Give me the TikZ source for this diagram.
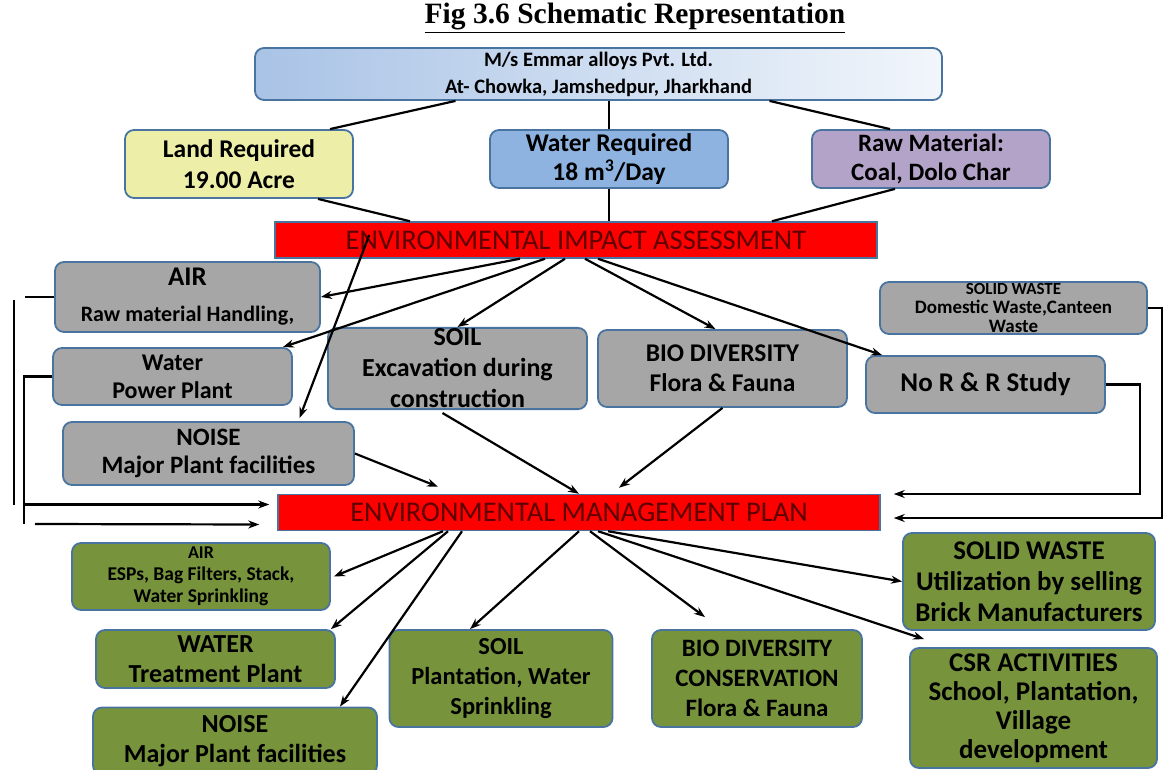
\documentclass[tikz,border=0pt]{standalone}
\usepackage{fontspec}
\setmainfont{Carlito}
\newfontfamily\titlefont{Liberation Serif}
\usetikzlibrary{arrows.meta,positioning}
\definecolor{boxline}{HTML}{4A74A0}
\definecolor{impgrey}{HTML}{A6A6A6}
\definecolor{plangreen}{HTML}{77933C}
\definecolor{landfill}{HTML}{EDEFA9}
\definecolor{waterfill}{HTML}{8EB3E0}
\definecolor{rawfill}{HTML}{B4A3C8}
\definecolor{cofillL}{HTML}{A9C3E6}
\definecolor{cofillR}{HTML}{F2F6FB}
\definecolor{bartext}{HTML}{5C0000}
\newcommand\fs[2]{\fontsize{#1}{#2}\selectfont}

\begin{document}
\begin{tikzpicture}[x=1pt,y=-1pt,>={Stealth[length=11pt,width=8pt]},line width=2.2pt,
 box/.style={draw=boxline,line width=1.8pt,rounded corners=9pt,align=center,inner sep=1pt,font=\bfseries},
 imp/.style={box,fill=impgrey},
 plan/.style={box,fill=plangreen},
 bar/.style={draw=boxline,line width=1.5pt,fill=red,text=bartext,minimum width=602pt,minimum height=36pt,font=\fs{28.5}{30}}]
\useasboundingbox (0,0) rectangle (1165,770);

\node[font=\titlefont\bfseries\fs{29.5}{32}] (t) at (635,18) {\underline{Fig 3.6 Schematic Representation}};
\node[box,left color=cofillL,right color=cofillR,minimum width=687pt,minimum height=52pt,font=\bfseries\fs{20.5}{27}] (co) at (598.5,74)
 {M/s Emmar alloys Pvt. Ltd.\\At- Chowka, Jamshedpur, Jharkhand};
\node[box,fill=landfill,minimum width=228pt,minimum height=68pt,font=\bfseries\fs{25.5}{31}] (land) at (239,164) {Land Required\\19.00 Acre};
\node[box,fill=waterfill,minimum width=238pt,minimum height=58pt,font=\bfseries\fs{25.5}{29}] (water) at (609,159) {Water Required\\18 m\textsuperscript{3}/Day};
\node[box,fill=rawfill,minimum width=238pt,minimum height=58pt,font=\bfseries\fs{25}{29}] (raw) at (931,159) {Raw Material:\\Coal, Dolo Char};
\node[bar] (eia) at (576,240) {ENVIRONMENTAL IMPACT ASSESSMENT};

\node[imp,minimum width=265pt,minimum height=70pt,font=\bfseries\fs{22}{36}] (airI) at (187.5,297) {{\fs{27}{36}AIR}\\Raw material Handling,};
\node[imp,minimum width=239pt,minimum height=57pt,font=\bfseries\fs{24}{28}] (waterI) at (172.5,376.5) {Water\\Power Plant};
\node[imp,minimum width=291pt,minimum height=63pt,font=\bfseries\fs{25}{28}] (noiseI) at (208.5,453.5) {NOISE\\Major Plant facilities};
\node[imp,minimum width=259pt,minimum height=77pt,font=\bfseries\fs{26}{31}] (soilI) at (457.5,368.5) {SOIL\\Excavation during\\construction};
\node[imp,minimum width=249pt,minimum height=77pt,font=\bfseries\fs{25.5}{30}] (bioI) at (722.5,368.5) {BIO DIVERSITY\\Flora \& Fauna};
\node[imp,minimum width=267pt,minimum height=52pt,font=\bfseries\fs{19}{19}] (solidI) at (1013.5,308) {{\fs{17}{19}SOLID WASTE}\\Domestic Waste,Canteen\\Waste};
\node[imp,minimum width=239pt,minimum height=57pt,font=\bfseries\fs{27}{30}] (rrI) at (985.5,384.5) {No R \& R Study};

\node[bar] (emp) at (579,512.5) {ENVIRONMENTAL MANAGEMENT PLAN};

\node[plan,minimum width=258pt,minimum height=67pt,font=\bfseries\fs{19.5}{22}] (airM) at (201,576.5) {{\fs{18}{22}AIR}\\ESPs, Bag Filters, Stack,\\Water Sprinkling};
\node[plan,minimum width=239pt,minimum height=58pt,font=\bfseries\fs{26}{30}] (waterM) at (215.5,659) {WATER\\Treatment Plant};
\node[plan,minimum width=284pt,minimum height=67pt,font=\bfseries\fs{26}{30}] (noiseM) at (235,741) {NOISE\\Major Plant facilities};
\node[plan,minimum width=223pt,minimum height=97pt,font=\bfseries\fs{24.5}{30}] (soilM) at (501,678.5) {SOIL\\Plantation, Water\\Sprinkling};
\node[plan,minimum width=210pt,minimum height=97pt,font=\bfseries\fs{25}{30}] (bioM) at (757,678.5) {BIO DIVERSITY\\CONSERVATION\\Flora \& Fauna};
\node[plan,minimum width=252pt,minimum height=97pt,font=\bfseries\fs{27}{31}] (solidM) at (1029,581.5) {SOLID WASTE\\Utilization by selling\\Brick Manufacturers};
\node[plan,minimum width=247pt,minimum height=120pt,font=\bfseries\fs{27}{29}] (csrM) at (1033.5,708) {CSR ACTIVITIES\\School, Plantation,\\Village\\development};

\coordinate (l1) at (25,297);
\coordinate (v1) at (14,300);
\coordinate (v2) at (14,505);
\coordinate (w1) at (24,524);
\coordinate (s2) at (35,524);
\coordinate (e1) at ([xshift=-8pt,yshift=8pt]emp.west);
\coordinate (e2) at ([xshift=-18pt,yshift=-12pt]emp.west);
\coordinate (r1) at ([xshift=13pt]emp.east);
\coordinate (c1) at (1162,518);
\coordinate (c2) at (1140,494);

\draw ([xshift=-143pt]co.south)--([xshift=91pt]land.north);
\draw (water.north)--(water.north |- co.south);
\draw ([xshift=171pt]co.south)--([xshift=-41pt]raw.north);
\draw ([xshift=79pt]land.south)--([xshift=-166pt]eia.north);
\draw (water.south)--(water.south |- eia.north);
\draw ([xshift=-36pt]raw.south)--([xshift=196pt]eia.north);

\draw[->] ([xshift=-56pt]eia.south)--(airI.east);
\draw[->] ([xshift=-31pt]eia.south)--([xshift=-10pt]waterI.north east);
\draw[->] ([xshift=-11pt]eia.south)--(soilI.north);
\draw[->] ([xshift=9pt]eia.south)--([xshift=-7pt]bioI.north);
\draw[->] ([xshift=22pt]eia.south)--([xshift=17pt]rrI.north west);
\draw[->] ([xshift=95pt,yshift=5pt]eia.west)--([xshift=91pt,yshift=3pt]noiseI.north);

\draw (airI.west)--(l1);
\draw (v1)--(v2);
\draw (waterI.west)-|(w1);
\draw[->] (e1 -| w1)--(e1);
\draw[->] (s2)--(e2);
\draw[->] (solidI.east)-|(c1)--(c1 -| r1);
\draw[->] (rrI.east)-|(c2)--(c2 -| r1);

\draw[->] (noiseI.east)--([xshift=-141pt,yshift=7pt]emp.north);
\draw[->] ([xshift=-15pt,yshift=-3pt]soilI.south)--(emp.north);
\draw[->] (bioI.south)--([xshift=40pt,yshift=6pt]emp.north);

\draw[->] ([xshift=-136pt]emp.south)--([xshift=3pt]airM.east);
\draw[->] ([xshift=-131pt]emp.south)--([xshift=-5pt]waterM.north east);
\draw[->] ([xshift=-117pt]emp.south)--([xshift=105pt]noiseM.north);
\draw[->] (emp.south)--([xshift=-31pt]soilM.north);
\draw[->] ([xshift=11pt]emp.south)--([xshift=-52pt,yshift=12pt]bioM.north);
\draw[->] ([xshift=29pt]emp.south)--(solidM.west);
\draw[->] ([xshift=19pt]emp.south)--([xshift=15pt,yshift=8pt]csrM.north west);
\end{tikzpicture}
\end{document}
